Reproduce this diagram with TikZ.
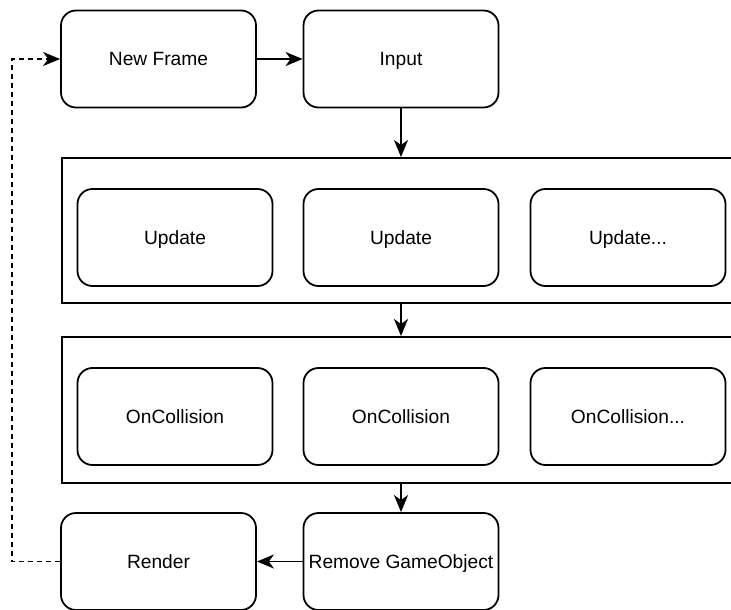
\documentclass[tikz,border=0pt]{standalone}
\usepackage{fontspec}
\setmainfont{Liberation Sans}
\usetikzlibrary{arrows.meta}
\begin{document}
\begin{tikzpicture}[x=1pt,y=-1pt,
  box/.style={draw, line width=1.8pt, rounded corners=15pt, minimum width=195pt, minimum height=97pt, inner sep=0pt, text height=13.8pt, text depth=0pt, font=\fontsize{19.2}{23}\selectfont},
  group/.style={draw, line width=1.8pt, inner sep=0pt, minimum width=700pt},
  arr/.style={line width=1.8pt, -{Stealth[length=17pt,width=14pt,inset=5pt]}},
  dashedarr/.style={line width=1.4pt, dash pattern=on 5pt off 4pt, -{Stealth[length=17pt,width=14pt,inset=5pt]}}]
\useasboundingbox (0,0) rectangle (731,610);
\clip (0,0) rectangle (731,610);
\node[group, minimum height=145pt, anchor=north west] (c1) at (61,157) {};
\node[group, minimum height=146pt, anchor=north west] (c2) at (61,336) {};
\node[box] (nf) at (158.5,59) {New Frame};
\node[box] (in) at (401,59) {Input};
\node[box] (u1) at (175,237.5) {Update};
\node[box] (u2) at (401,237.5) {Update};
\node[box] (u3) at (628,237.5) {Update...};
\node[box] (o1) at (175,416.5) {OnCollision};
\node[box] (o2) at (401,416.5) {OnCollision};
\node[box] (o3) at (628,416.5) {OnCollision...};
\node[box] (re) at (158.5,561.5) {Render};
\node[box] (rg) at (401,561.5) {Remove GameObject};
\coordinate (dl) at (12,0);
\draw[arr] (nf) -- (in);
\draw[arr] (in.south) -- (in.south |- c1.north);
\draw[arr] (in.south |- c1.south) -- (in.south |- c2.north);
\draw[arr] (in.south |- c2.south) -- (rg.north);
\draw[arr] (rg) -- (re);
\draw[dashedarr] (re.west) -- (re.west -| dl) -- (nf.west -| dl) -- (nf.west);
\end{tikzpicture}
\end{document}
